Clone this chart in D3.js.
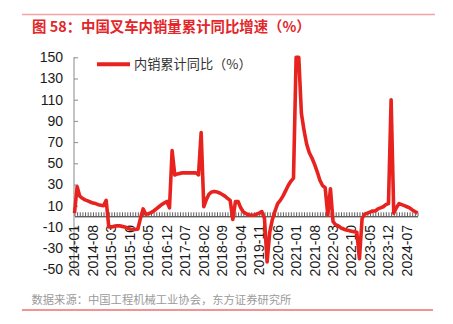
<!DOCTYPE html>
<html>
<head>
<meta charset="utf-8">
<script src="https://cdn.jsdelivr.net/npm/d3@7"></script>
<style>
  html, body { margin: 0; padding: 0; background: #fff; }
  svg { display: block; }
</style>
</head>
<body>
<svg id="chart" width="453" height="324"></svg>
<script>
// Forklift domestic sales, cumulative YoY growth (%), monthly Jan 2014 – Nov 2024
const y2014 = [3, 28, 19, 17, 15.5, 14.5, 13.5, 12.5, 12, 11, 10.5, 10];
const y2015 = [15, -10, -10, -9.5, -9, -9, -9.5, -10, -11, -12, -12.5, -12.5];
const y2016 = [-12, -2, 7, 2, 2.5, 3.5, 5, 7, 9, 11, 12.5, 14];
const y2017 = [8, 62, 39, 40, 40.5, 41, 41, 41, 41, 41, 41, 39];
const y2018 = [79, 9, 16, 21, 23, 23.5, 23, 22, 20.5, 19, 17, 15];
const y2019 = [-3, 14, 14, 8, 4, 2.5, 1.5, 1, 1, 2, 3, 4.5];
const y2020 = [-2, -43, -15, -3, 5, 12, 15, 19, 24, 29, 33, 36];
const y2021 = [150, 150, 97, 81, 68, 60, 55, 49, 42, 34, 29, 27];
const y2022 = [1, 26, -5, -8, -9, -11, -12, -13, -13.5, -14, -14.5, -15];
const y2023 = [-40, -2, 2, 3, 4, 5, 5, 7, 8, 9, 11, 12];
const y2024 = [110, 3, 8, 12, 11, 10, 9, 8, 6, 4.5, 3];

const startYear = 2014;
const yTicks = [-50, -30, -10, 10, 30, 50, 70, 90, 110, 130, 150];
const labelEvery = 7;

const seriesName = "内销累计同比（%）";
const title = "图 58：中国叉车内销量累计同比增速（%）";
const source = "数据来源：中国工程机械工业协会，东方证券研究所";

const values = [].concat(y2014, y2015, y2016, y2017, y2018, y2019, y2020, y2021, y2022, y2023, y2024);
const months = values.map((_, i) => {
  const y = startYear + Math.floor(i / 12);
  const m = (i % 12) + 1;
  return `${y}-${String(m).padStart(2, "0")}`;
});
const data = months.map((m, i) => ({ month: m, value: values[i] }));

const RED = "#e8231f";
const svg = d3.select("#chart");
const cjk = "'Noto Sans CJK SC', 'Noto Sans', sans-serif";
const latin = "'Liberation Sans', Arial, sans-serif";

// Header rule and title
svg.append("line").attr("x1", 22).attr("x2", 435).attr("y1", 14.5).attr("y2", 14.5)
  .attr("stroke", "#f2a3a3").attr("stroke-width", 1.6);
svg.append("text").attr("x", 32).attr("y", 27).attr("dy", "0.35em")
  .attr("font-family", cjk).attr("font-weight", "bold").attr("font-size", 14.4)
  .attr("fill", "#e2262a").text(title);

// Scales
const x = d3.scalePoint().domain(months).range([74.5, 417.5]);
const y = d3.scaleLinear().domain([-50, 150]).range([269.3, 57.3]);
const y0 = y(0);

// Y axis
const yAxis = svg.append("g").attr("transform", "translate(74,0)")
  .call(d3.axisRight(y).tickValues(yTicks).tickSize(4).tickFormat(""));
yAxis.select(".domain").attr("stroke", "#8a8a8a").attr("d", `M0,${y(-50)}V${y(150)}`);
yAxis.selectAll(".tick line").attr("stroke", "#8a8a8a");
svg.append("g").selectAll("text").data(yTicks).join("text")
  .attr("x", 63).attr("y", d => y(d)).attr("dy", "0.35em")
  .attr("text-anchor", "end").attr("font-family", latin).attr("font-size", 14)
  .attr("fill", "#1a1a1a").text(d => d);

// X axis along zero line, monthly ticks pointing up
const xAxis = svg.append("g").attr("transform", `translate(0,${y0})`)
  .call(d3.axisTop(x).tickSize(4).tickSizeOuter(0).tickFormat(""));
xAxis.select(".domain").attr("stroke", "#222").attr("stroke-width", 1);
xAxis.selectAll(".tick line").attr("stroke", "#333").attr("stroke-width", 0.8);

// Rotated category labels below the plot's zero line
const labelMonths = months.filter((_, i) => i % labelEvery === 0);
svg.append("g").selectAll("text").data(labelMonths).join("text")
  .attr("transform", d => `translate(${x(d)},225) rotate(-90)`)
  .attr("text-anchor", "end").attr("dy", "0.35em")
  .attr("font-family", latin).attr("font-size", 14).attr("fill", "#1a1a1a")
  .text(d => d);

// Series line
const line = d3.line().x(d => x(d.month)).y(d => y(d.value)).curve(d3.curveLinear);
svg.append("path").datum(data).attr("d", line)
  .attr("fill", "none").attr("stroke", RED).attr("stroke-width", 3.6)
  .attr("stroke-linejoin", "round").attr("stroke-linecap", "butt");

// Legend
svg.append("line").attr("x1", 97).attr("x2", 130).attr("y1", 64.3).attr("y2", 64.3)
  .attr("stroke", RED).attr("stroke-width", 4);
svg.append("text").attr("x", 134).attr("y", 64.3).attr("dy", "0.35em")
  .attr("font-family", cjk).attr("font-size", 13.2).attr("fill", "#333").text(seriesName);

// Source note and bottom rule
svg.append("text").attr("x", 31.5).attr("y", 300).attr("dy", "0.35em")
  .attr("font-family", cjk).attr("font-size", 11.3).attr("fill", "#9a9a9a").text(source);
svg.append("line").attr("x1", 22).attr("x2", 433).attr("y1", 310).attr("y2", 310)
  .attr("stroke", "#e8262a").attr("stroke-width", 1);
</script>
</body>
</html>
